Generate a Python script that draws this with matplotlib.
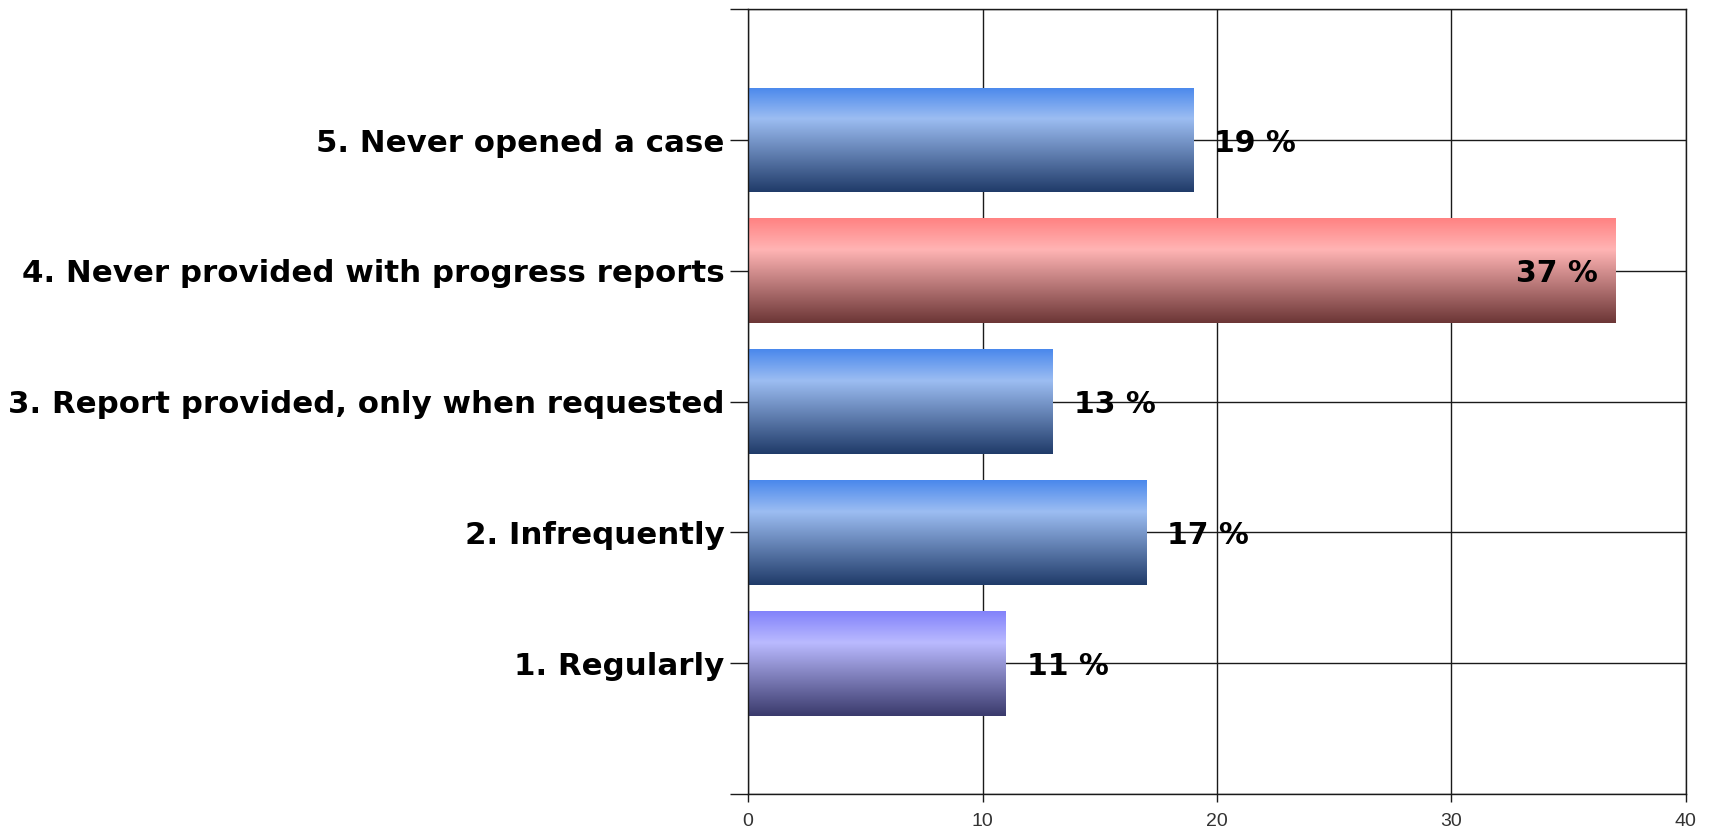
import matplotlib
matplotlib.use("Agg")
import matplotlib.pyplot as plt
from matplotlib.colors import LinearSegmentedColormap
import numpy as np

categories = ["1. Regularly", "2. Infrequently", "3. Report provided, only when requested",
              "4. Never provided with progress reports", "5. Never opened a case"]
values = [11, 17, 13, 37, 19]
value_labels = ["11 %", "17 %", "13 %", "37 %", "19 %"]
x_ticks = [0, 10, 20, 30, 40]

# top, highlight, bottom shade for each bar
blue = ["#4a88ec", "#9cbdf2", "#203b69"]
red = ["#ff8282", "#ffb4b4", "#6c3636"]
purple = ["#8282fa", "#babaff", "#3a3a6c"]
bar_shades = [purple, blue, blue, red, blue]

plt.rcParams['font.family'] = ['Liberation Sans', 'DejaVu Sans']
label_font = ['DejaVu Sans']
tick_font = ['Liberation Sans Narrow', 'Liberation Sans']

fig = plt.figure(figsize=(17.13, 8.38), dpi=100)
ax = fig.add_axes([0.4367, 0.0525, 0.5475, 0.9365])

pos = np.arange(1, len(categories) + 1)
bars = ax.barh(pos, values, height=0.8, color="none", edgecolor="none", zorder=2)

t = np.linspace(0, 1, 256).reshape(-1, 1)
for rect, shades in zip(bars, bar_shades):
    cmap = LinearSegmentedColormap.from_list(
        "g", [(0.0, shades[0]), (0.3, shades[1]), (1.0, shades[2])])
    x0, y0 = rect.get_x(), rect.get_y()
    w, h = rect.get_width(), rect.get_height()
    im = ax.imshow(t, cmap=cmap, aspect="auto", origin="upper",
                   extent=[x0, x0 + w, y0, y0 + h], zorder=2)
    im.set_clip_path(rect)

for p, v, lab in zip(pos, values, value_labels):
    if v > 30:
        ax.annotate(lab, xy=(v, p), xytext=(-13, 0), textcoords="offset points",
                    ha="right", va="center_baseline", fontsize=21.5, fontweight="bold",
                    family=label_font, zorder=4)
    else:
        ax.annotate(lab, xy=(v, p), xytext=(15, 0), textcoords="offset points",
                    ha="left", va="center_baseline", fontsize=21.5, fontweight="bold",
                    family=label_font, zorder=4)

ax.set_xlim(0, 40)
ax.set_ylim(0, 6)
ax.set_xticks(x_ticks)
ax.set_xticklabels([str(v) for v in x_ticks], family=tick_font, fontsize=14,
                   color="#333333")
ax.set_yticks(range(0, 7))
ax.set_yticklabels([""] + categories + [""], family=label_font, fontsize=22.2,
                   fontweight="bold")

ax.grid(True, color="#1a1a1a", linewidth=1.0, zorder=1)
ax.set_axisbelow(True)
for s in ax.spines.values():
    s.set_color("#1a1a1a")
    s.set_linewidth(1.0)

ax.tick_params(axis="y", length=13, width=1.0, color="#1a1a1a", pad=4)
ax.tick_params(axis="x", length=6, width=1.0, color="#1a1a1a", pad=8)

fig.savefig("out.png", dpi=100, facecolor="white")
